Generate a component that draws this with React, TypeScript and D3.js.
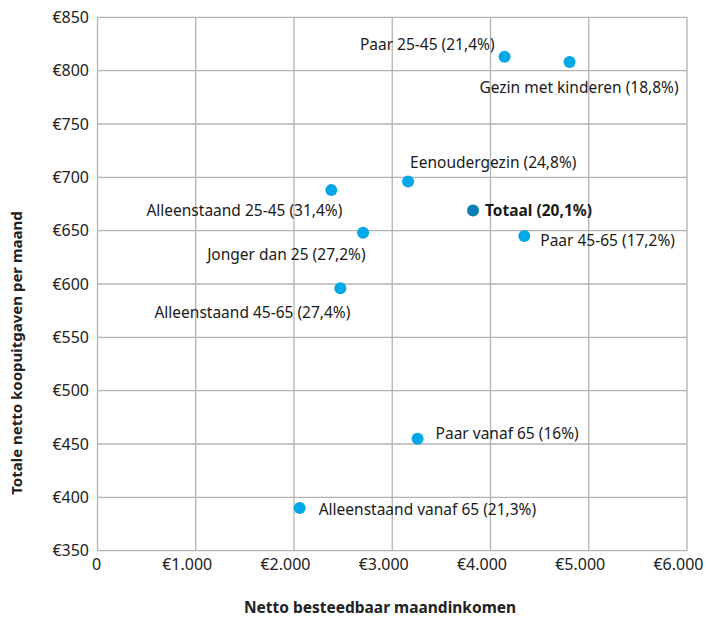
import React from "react";
import * as d3 from "d3";

const categories = [
  "Paar 25-45 (21,4%)",
  "Gezin met kinderen (18,8%)",
  "Eenoudergezin (24,8%)",
  "Totaal (20,1%)",
  "Paar 45-65 (17,2%)",
  "Jonger dan 25 (27,2%)",
  "Alleenstaand 25-45 (31,4%)",
  "Alleenstaand 45-65 (27,4%)",
  "Paar vanaf 65 (16%)",
  "Alleenstaand vanaf 65 (21,3%)",
];
const incomeValues = [4143, 4805, 3161, 3822, 4344, 2703, 2380, 2472, 3258, 2058];
const spendingValues = [813, 808, 696, 669, 645, 648, 688, 596, 455, 390];
// label placement: [anchor, dx, dy]
const labelPlacement: [string, number, number][] = [
  ["end", -10, -12.5],
  ["end", 109, 25],
  ["start", 2, -19],
  ["start", 12, 0],
  ["start", 16, 5],
  ["end", 2.5, 22],
  ["end", 11, 20],
  ["end", 10, 24],
  ["start", 18, -5],
  ["start", 19, 1.5],
];
const xTicks = [0, 1000, 2000, 3000, 4000, 5000, 6000];
const yTicks = [350, 400, 450, 500, 550, 600, 650, 700, 750, 800, 850];

const fmt = (v: number) =>
  v === 0 ? "0" : "€" + d3.format(",")(v).replace(/,/g, ".");

export default function App() {
  const W = 706, H = 618;
  const left = 97.5, right = 687, top = 17.3, bottom = 550.7;
  const x = d3.scaleLinear().domain([0, 6000]).range([left, right]);
  const y = d3.scaleLinear().domain([350, 850]).range([bottom, top]);
  const font = "'Noto Sans', sans-serif";
  return (
    <svg width={W} height={H} style={{ position: "absolute", left: 0, top: 0 }} fontFamily={font}>
      <rect width={W} height={H} fill="#fff" />
      {xTicks.map((t) => (
        <line key={"gx" + t} x1={x(t)} x2={x(t)} y1={top} y2={bottom} stroke="#b3b3b3" strokeWidth={1.3} />
      ))}
      {yTicks.map((t) => (
        <line key={"gy" + t} x1={left} x2={right} y1={y(t)} y2={y(t)} stroke="#b3b3b3" strokeWidth={1.3} />
      ))}
      {yTicks.map((t) => (
        <text key={"ty" + t} x={89} y={y(t)} dy="0.35em" textAnchor="end" fontSize={16} fill="#222">
          {fmt(t)}
        </text>
      ))}
      {xTicks.map((t) => (
        <text
          key={"tx" + t}
          x={t === 0 ? x(t) - 1 : x(t) - 8.5}
          y={564}
          dy="0.35em"
          textAnchor="middle"
          fontSize={16}
          fill="#222"
        >
          {fmt(t)}
        </text>
      ))}
      <text x={380} y={607.5} dy="0.35em" textAnchor="middle" fontSize={15.5} fontWeight="bold" fill="#222">
        Netto besteedbaar maandinkomen
      </text>
      <text
        transform={`translate(17,353) rotate(-90)`}
        dy="0.35em"
        textAnchor="middle"
        fontSize={15}
        fontWeight="bold"
        fill="#222"
      >
        Totale netto koopuitgaven per maand
      </text>
      {categories.map((c, i) => {
        const cx = x(incomeValues[i]);
        const cy = y(spendingValues[i]);
        const [anchor, dx, dy] = labelPlacement[i];
        const isTotal = c.startsWith("Totaal");
        return (
          <g key={c}>
            <circle cx={cx} cy={cy} r={6} fill={isTotal ? "#0a7fb5" : "#00a8e8"} />
            <text
              x={cx + dx}
              y={cy + dy}
              dy="0.35em"
              textAnchor={anchor as any}
              fontSize={15.5}
              fontWeight={isTotal ? "bold" : "normal"}
              fill="#1a1a1a"
            >
              {c}
            </text>
          </g>
        );
      })}
    </svg>
  );
}
